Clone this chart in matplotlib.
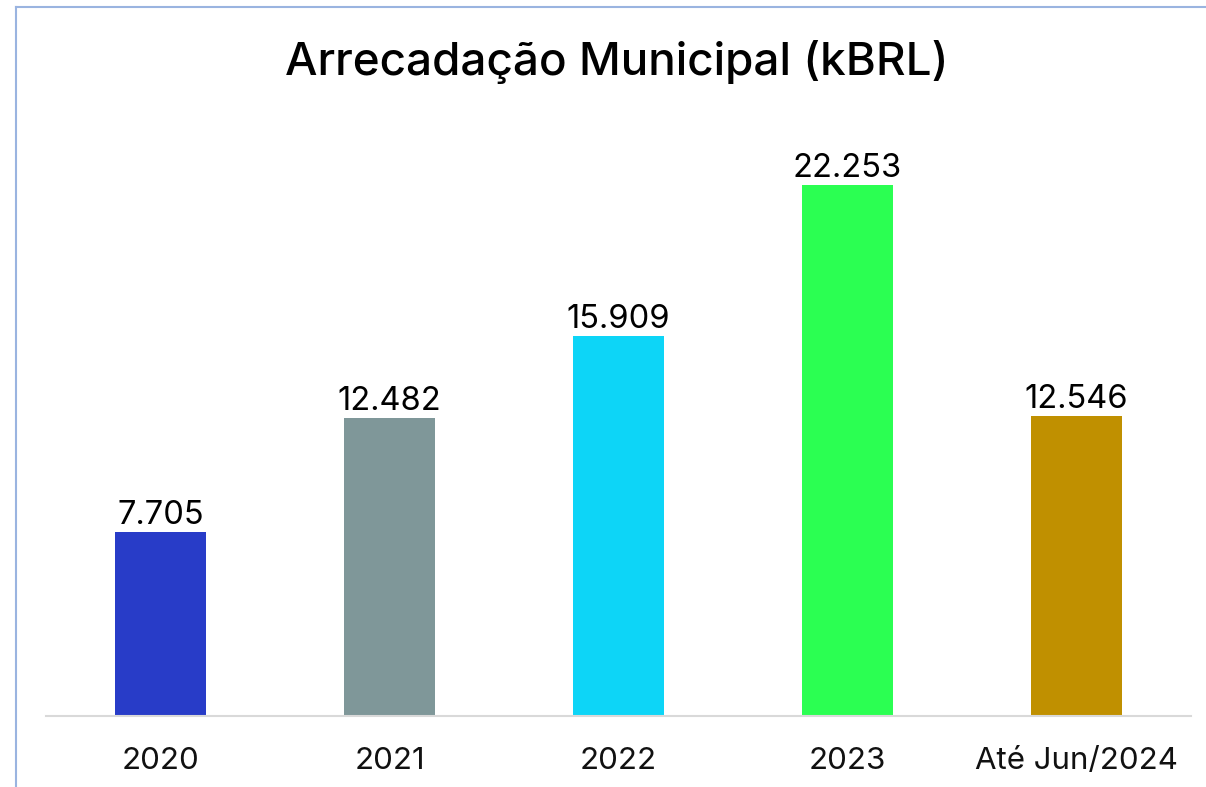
import matplotlib.pyplot as plt
from matplotlib.lines import Line2D

categories = ['2020', '2021', '2022', '2023', 'Até Jun/2024']
values = [7705, 12482, 15909, 22253, 12546]
colors = ['#283cc8', '#7f9799', '#0dd5f7', '#2bff52', '#c09000']

fig = plt.figure(figsize=(12.06, 7.87), dpi=100)
ax = fig.add_axes([46/1206, 71/787, 1145/1206, 597/787])

x = range(len(categories))
rects = ax.bar(x, values, width=0.4, color=colors)

def fmt(v):
	return f'{v:,}'.replace(',', '.')

for rect, v in zip(rects, values):
	ax.text(rect.get_x() + rect.get_width()/2., rect.get_height() + 40, fmt(v),
		ha='center', va='bottom', fontsize=23.5, family='Inter', color='black')

ax.set_xlim(-0.5, 4.5)
ax.set_ylim(0, 25000)
ax.set_xticks(list(x))
ax.set_xticklabels(categories, fontsize=22.5, family='Inter', color='#111111')
ax.tick_params(axis='x', length=0, pad=22)
ax.set_yticks([])
for s in ['top', 'right', 'left']:
	ax.spines[s].set_visible(False)
ax.spines['bottom'].set_color('#d9d9d9')
ax.spines['bottom'].set_linewidth(1.5)

fig.text(617/1206, 1 - 62/787, 'Arrecadação Municipal (kBRL)', ha='center', va='center',
	fontsize=33, family='Inter', fontweight='medium')

# frame lines of the chart area (top and left)
fig.add_artist(Line2D([16/1206, 1], [1 - 7/787, 1 - 7/787], color='#9ab4e0', lw=1.5))
fig.add_artist(Line2D([16/1206, 16/1206], [0, 1 - 7/787], color='#9ab4e0', lw=1.5))

fig.savefig('out.png', dpi=100)
